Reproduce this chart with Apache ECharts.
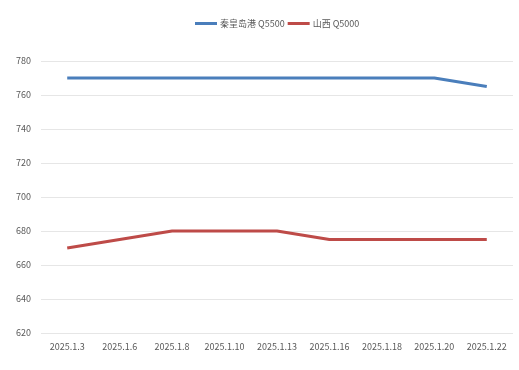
<!DOCTYPE html>
<html><head><meta charset="utf-8">
<script src="https://cdn.jsdelivr.net/npm/echarts@6/dist/echarts.min.js"></script>
<style>html,body{margin:0;padding:0;background:#fff}#c{width:519px;height:370px}</style>
</head><body><div id="c"></div>
<script>
const categories = ['2025.1.3','2025.1.6','2025.1.8','2025.1.10','2025.1.13','2025.1.16','2025.1.18','2025.1.20','2025.1.22'];
const qhdQ5500 = [770,770,770,770,770,770,770,770,765];
const sxQ5000 = [670,675,680,680,680,675,675,675,675];
const seriesNames = ['秦皇岛港 Q5500','山西 Q5000'];
const chart = echarts.init(document.getElementById('c'));
chart.setOption({
  animation:false,
  textStyle:{fontFamily:'"Noto Sans CJK SC","Liberation Sans",sans-serif'},
  legend:{top:14,left:190,itemWidth:22,itemHeight:3,itemGap:3,icon:'rect',
    textStyle:{color:'#595959',fontSize:9,padding:[0,0,0,-2]},data:seriesNames},
  grid:{left:41,right:6,top:61,bottom:37,containLabel:false},
  xAxis:{type:'category',data:categories,boundaryGap:true,
    axisLine:{show:false},axisTick:{show:false},
    axisLabel:{color:'#595959',fontSize:9,margin:9}},
  yAxis:{type:'value',min:620,max:780,interval:20,
    axisLine:{show:false},axisTick:{show:false},
    axisLabel:{color:'#595959',fontSize:9,margin:10},
    splitLine:{lineStyle:{color:'#e6e6e6',width:1}}},
  series:[
    {name:seriesNames[0],type:'line',data:qhdQ5500,symbol:'none',lineStyle:{color:'#4a7ebb',width:3},itemStyle:{color:'#4a7ebb'}},
    {name:seriesNames[1],type:'line',data:sxQ5000,symbol:'none',lineStyle:{color:'#be4b48',width:3},itemStyle:{color:'#be4b48'}}
  ]
});
</script></body></html>
